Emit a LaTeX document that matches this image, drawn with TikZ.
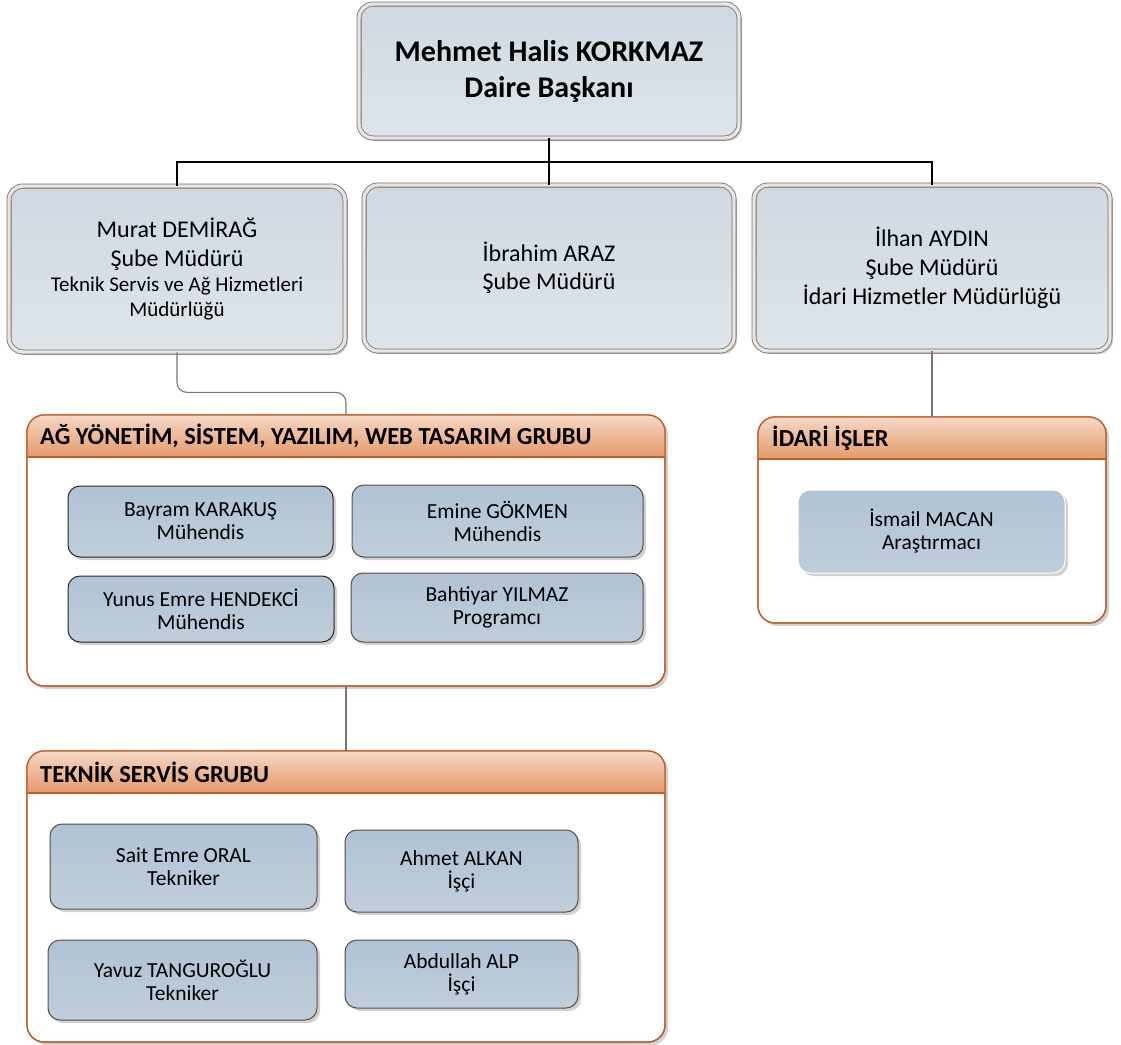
\documentclass[tikz,border=0pt]{standalone}
\usepackage{fontspec}
\setmainfont{Carlito}
\usetikzlibrary{shadows}
\definecolor{mgrA}{HTML}{CFD8E1}
\definecolor{mgrB}{HTML}{DEE4EA}
\definecolor{mgrline}{HTML}{7D6B63}
\definecolor{mgrgap}{HTML}{E6E6E6}
\definecolor{empA}{HTML}{AFC3D5}
\definecolor{empB}{HTML}{C0CEDB}
\definecolor{empline}{HTML}{5A4C45}
\definecolor{hdrtop}{HTML}{F5D8C6}
\definecolor{hdrbot}{HTML}{E49A69}
\definecolor{grpline}{HTML}{BC5F28}
\definecolor{connB}{HTML}{7F7370}
\begin{document}
\begin{tikzpicture}[x=1pt,y=-1pt,
  shadowed/.style={drop shadow={shadow xshift=3pt,shadow yshift=-3pt,fill=black!40,opacity=0.45}},
  mgrbox/.style={shape=rectangle,rounded corners=14pt,draw=mgrline,line width=0.8pt,
    double=mgrgap,double distance=3.4pt,top color=mgrA,bottom color=mgrB,
    shadowed,align=center,inner sep=0pt,text=black,
    font=\fontsize{24}{29}\selectfont},
  empbox/.style={shape=rectangle,rounded corners=12pt,draw=empline,line width=1pt,
    top color=empA,bottom color=empB,shadowed,align=center,inner sep=0pt,
    font=\fontsize{21.5}{23}\selectfont},
  grpbox/.style={shape=rectangle,rounded corners=17pt,draw=grpline,line width=1.3pt,
    fill=white,shadowed,inner sep=0pt,outer sep=0pt},
  grpline/.style={draw=grpline,line width=1.3pt},
  hdrtext/.style={anchor=west,inner sep=0pt,font=\fontsize{24.5}{28}\bfseries\selectfont},
  conn/.style={draw=black,line width=1.1pt},
  connb/.style={draw=connB,line width=1.1pt}
]
\useasboundingbox (0,0) rectangle (1121,1044);

% managers
\node[mgrbox,font=\fontsize{30}{36}\bfseries\selectfont,minimum width=380pt,minimum height=134pt] (top) at (549,71)
  {Mehmet Halis KORKMAZ\\Daire Başkanı};
\node[mgrbox,minimum width=336pt,minimum height=166pt] (m1) at (177,269)
  {Murat DEMİRAĞ\\Şube Müdürü\\[-4pt]
   \fontsize{21}{25}\selectfont Teknik Servis ve Ağ Hizmetleri\\[-4pt]
   \fontsize{21}{25}\selectfont Müdürlüğü};
\node[mgrbox,font=\fontsize{24}{28}\selectfont,minimum width=370pt,minimum height=166pt] (m2) at (549,268)
  {İbrahim ARAZ\\Şube Müdürü};
\node[mgrbox,minimum width=356pt,minimum height=166pt] (m3) at (932,268)
  {İlhan AYDIN\\Şube Müdürü\\İdari Hizmetler Müdürlüğü};

% groups
\node[grpbox,minimum width=638pt,minimum height=271pt] (g1) at (346,550.5) {};
\node[grpbox,minimum width=638pt,minimum height=291pt] (g2) at (346,896.5) {};
\node[grpbox,minimum width=348pt,minimum height=206pt] (g3) at (932,520) {};
\foreach \g in {g1,g2,g3}{
  \begin{scope}
    \clip[rounded corners=17pt] (\g.north west) rectangle (\g.south east);
    \shade[top color=hdrtop,bottom color=hdrbot]
      (\g.north west) rectangle ([yshift=-42pt]\g.north east);
  \end{scope}
  \draw[grpline] ([yshift=-42pt]\g.north west) -- ([yshift=-42pt]\g.north east);
  \draw[grpline,rounded corners=17pt] (\g.north west) rectangle (\g.south east);
}
\node[hdrtext] (g1t) at (40,436) {AĞ YÖNETİM, SİSTEM, YAZILIM, WEB TASARIM GRUBU};
\node[hdrtext] (g2t) at (40,772) {TEKNİK SERVİS GRUBU};
\node[hdrtext] (g3t) at (772,438) {İDARİ İŞLER};

% employees
\node[empbox,draw=black!85,minimum width=265pt,minimum height=71pt] (e1) at (200.5,521.5) {Bayram KARAKUŞ\\Mühendis};
\node[empbox,minimum width=291pt,minimum height=72pt] (e2) at (497.5,521) {Emine GÖKMEN\\Mühendis};
\node[empbox,draw=black!85,minimum width=266pt,minimum height=66pt] (e3) at (201,609) {Yunus Emre HENDEKCİ\\Mühendis};
\node[empbox,minimum width=292pt,minimum height=69pt] (e4) at (497,607.5) {Bahtiyar YILMAZ\\Programcı};
\node[empbox,draw=white,minimum width=267pt,minimum height=83pt] (e5) at (931.5,531.5) {İsmail MACAN\\Araştırmacı};
\node[empbox,minimum width=267pt,minimum height=85pt] (e6) at (183.5,866.5) {Sait Emre ORAL\\Tekniker};
\node[empbox,minimum width=269pt,minimum height=80pt] (e7) at (182.5,980) {Yavuz TANGUROĞLU\\Tekniker};
\node[empbox,minimum width=233pt,minimum height=82pt] (e8) at (461.5,871) {Ahmet ALKAN\\İşçi};
\node[empbox,minimum width=233pt,minimum height=68pt] (e9) at (461.5,974) {Abdullah ALP\\İşçi};

% connectors
\coordinate (bus) at (549,162);
\draw[conn] (top.south) -- (m2.north);
\draw[conn] (m1.north) -- (m1.north |- bus) -- (m3.north |- bus) -- (m3.north);
\draw[connb,rounded corners=10pt] (m1.south) -- ++(0,40) -| (g1.north);
\draw[connb] (g1.south) -- (g2.north);
\draw[connb] (m3.south) -- (g3.north);
\end{tikzpicture}
\end{document}
